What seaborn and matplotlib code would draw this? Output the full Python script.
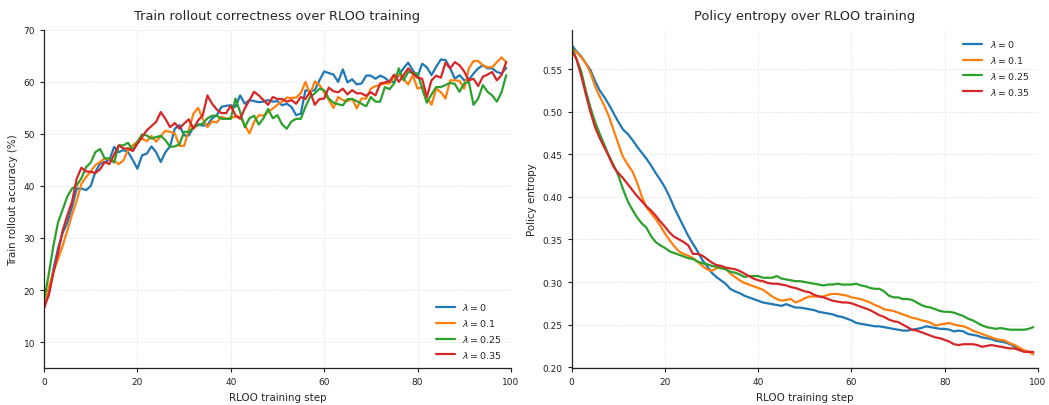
import numpy as np
import pandas as pd
import matplotlib
matplotlib.use("Agg")
import matplotlib.pyplot as plt
import seaborn as sns

# data
steps = list(range(100))
lambdas = ["0", "0.1", "0.25", "0.35"]
colors = ["#1f77b4", "#ff7f0e", "#2ca02c", "#d62728"]

acc_l0 = [17.5, 19, 24, 28, 31, 33, 36, 39.5, 39.5, 39.2,
          40, 42.7, 44.3, 44.6, 45, 47.5, 46.5, 46.9, 46.5, 45,
          43.3, 45.9, 46.2, 47.6, 46.5, 44.6, 46.5, 47.6, 51, 51.7,
          49.7, 49.7, 51.3, 51.8, 51.6, 51.7, 53, 53.6, 55.2, 55.4,
          55.5, 55.2, 57.4, 55.8, 56.5, 56.3, 56.1, 56.2, 56.5, 56.2,
          56.3, 55.5, 55.8, 55.2, 53.6, 53.9, 58.4, 58.2, 58.4, 60.3,
          62, 61.7, 61.4, 60, 62.4, 59.9, 60.5, 59.5, 59.7, 61.2,
          61.2, 60.6, 61.2, 60.8, 60, 60, 61.3, 62.6, 63.7, 62.2,
          61, 63.5, 62.8, 61.3, 62.9, 64.3, 64.2, 62.6, 60.6, 61.3,
          60.3, 60.4, 61.6, 62.6, 63.2, 62.6, 62.6, 61.9, 61.6, 62.7]
acc_l01 = [16.5, 20.5, 23.5, 26, 28.5, 31.5, 34.5, 37.2, 40.4, 41.7,
           42.8, 44, 44.6, 45.3, 45.1, 44.8, 44.2, 44.9, 46.9, 47.8,
           48.5, 49.1, 48.6, 49.6, 48.5, 49.6, 50.6, 50.4, 50.1, 47.7,
           47.7, 50.7, 53.9, 55, 52.9, 51.3, 52.4, 52.2, 53.3, 52.9,
           53.1, 53.3, 53.3, 51.7, 50.1, 52.3, 53.6, 53.5, 54.2, 54.9,
           55.6, 56.2, 57, 56.9, 57, 57.8, 60, 57.6, 60.1, 59.4,
           58, 56.5, 55, 57.1, 56.5, 56.3, 56.8, 54.9, 56.8, 56.8,
           58.7, 59.2, 59.4, 59.7, 59.7, 61, 61.3, 60.6, 59.5, 61.3,
           58.7, 59, 57.1, 55.6, 58.7, 58, 56.8, 60.3, 60.3, 60.2,
           58.7, 62.6, 64, 64, 63.2, 62.8, 62.8, 63.8, 64.7, 63.8]
acc_l025 = [18, 23, 28.5, 33, 35.5, 38, 39.5, 40.1, 41.5, 43.6,
            44.5, 46.5, 47.1, 45.3, 45.3, 44.5, 47.8, 47.8, 48.3, 46.9,
            48.5, 49.9, 49.7, 49.1, 49.4, 49.6, 48.8, 47.5, 47.6, 48,
            50.4, 50.4, 51.2, 51.7, 52, 53, 53.5, 53.5, 52.9, 52.9,
            52.9, 56.8, 54.2, 51.3, 53, 53.5, 51.8, 53, 54.8, 53,
            53.6, 51.8, 51, 52.4, 52.9, 52.9, 55.2, 57.1, 57.8, 58.7,
            58.4, 56.8, 56, 55.7, 55.5, 56.7, 56.7, 56.3, 55.8, 55.3,
            57.1, 56.2, 56.2, 59, 58.6, 59.7, 62.6, 60.3, 61.9, 61.7,
            61.6, 58.7, 56, 57.6, 59, 59, 59.4, 59.8, 59.6, 58.1,
            59.7, 60, 55.6, 56.8, 59.4, 58.1, 57.4, 56.2, 58, 61.3]
acc_l035 = [16.5, 19, 23.3, 27.2, 31.5, 34.4, 37, 41.4, 43.5, 42.8,
            42.7, 42.5, 43.2, 44.6, 44.2, 46, 47.8, 47.2, 47.2, 46.7,
            48.1, 49.4, 50.7, 51.5, 52.3, 54.2, 52.9, 51.3, 52.1, 51,
            52, 52.8, 51, 52.6, 53.6, 57.4, 55.8, 54.7, 54, 54,
            55.4, 53.6, 52.9, 54.9, 56.5, 58.1, 57.4, 56.5, 55.6, 57.1,
            56.7, 56.7, 56.2, 56.5, 55.8, 57.1, 56.7, 58.1, 55.6, 56.7,
            56.8, 58.9, 58.2, 58, 58.7, 57.6, 58.4, 57.8, 57.8, 57.3,
            58, 57.4, 59.7, 59.9, 60.1, 61.4, 60, 61.3, 62.6, 61.6,
            60.8, 60.6, 57.1, 60.3, 61.2, 60.8, 63.7, 62.6, 63.8, 63.2,
            62, 60.3, 60.6, 59.2, 61, 61.4, 61.9, 60.3, 61.3, 63.8]

ent_l0 = [.578, .571, .565, .557, .549, .536, .525, .517, .508, .498,
          .488, .479, .474, .467, .459, .452, .445, .437, .428, .420,
          .411, .400, .387, .376, .365, .354, .345, .336, .326, .319,
          .311, .306, .302, .298, .292, .289, .287, .284, .282, .280,
          .278, .276, .275, .274, .273, .272, .274, .272, .270, .270,
          .269, .268, .267, .265, .264, .263, .262, .260, .259, .257,
          .255, .252, .251, .250, .249, .248, .248, .247, .246, .245,
          .244, .243, .243, .244, .245, .246, .248, .247, .246, .245,
          .245, .244, .242, .243, .242, .239, .238, .237, .235, .234,
          .233, .231, .230, .229, .227, .224, .222, .219, .218, .217]
ent_l01 = [.574, .570, .564, .557, .546, .530, .518, .507, .494, .478,
           .462, .447, .438, .430, .417, .401, .388, .381, .374, .366,
           .357, .349, .342, .336, .333, .331, .328, .324, .319, .315,
           .313, .316, .318, .316, .310, .306, .302, .299, .297, .295,
           .293, .291, .287, .283, .280, .278, .279, .280, .276, .278,
           .281, .283, .283, .283, .283, .285, .286, .286, .285, .284,
           .282, .281, .280, .278, .276, .273, .271, .268, .267, .266,
           .264, .262, .260, .258, .257, .255, .254, .252, .249, .250,
           .251, .252, .250, .249, .248, .246, .243, .241, .239, .237,
           .235, .233, .232, .231, .228, .226, .223, .220, .218, .215]
ent_l025 = [.576, .562, .548, .525, .505, .488, .474, .461, .448, .437,
            .425, .409, .395, .385, .376, .369, .364, .354, .347, .343,
            .340, .336, .334, .332, .330, .328, .327, .324, .322, .321,
            .319, .318, .316, .315, .312, .311, .309, .306, .307, .307,
            .307, .305, .305, .305, .307, .304, .303, .302, .301, .301,
            .300, .299, .298, .297, .296, .297, .297, .298, .297, .297,
            .297, .298, .296, .295, .293, .292, .292, .289, .284, .282,
            .282, .280, .280, .279, .276, .273, .271, .270, .268, .266,
            .265, .265, .264, .262, .260, .257, .255, .252, .249, .247,
            .246, .245, .246, .245, .244, .244, .244, .244, .245, .247]
ent_l035 = [.572, .562, .543, .521, .500, .482, .469, .458, .447, .435,
            .428, .422, .415, .408, .401, .395, .389, .384, .378, .371,
            .365, .358, .353, .350, .347, .343, .333, .333, .331, .327,
            .323, .320, .319, .317, .316, .315, .313, .310, .307, .304,
            .302, .301, .299, .298, .298, .297, .296, .294, .293, .291,
            .289, .288, .285, .283, .282, .280, .278, .277, .276, .276,
            .275, .273, .271, .269, .267, .264, .261, .259, .256, .254,
            .253, .250, .247, .244, .243, .241, .239, .237, .235, .234,
            .232, .230, .227, .226, .227, .227, .227, .226, .224, .225,
            .226, .225, .224, .223, .222, .222, .220, .218, .218, .218]

acc_series = [acc_l0, acc_l01, acc_l025, acc_l035]
ent_series = [ent_l0, ent_l01, ent_l025, ent_l035]

rows = []
for lam, acc, ent in zip(lambdas, acc_series, ent_series):
    for s, a, e in zip(steps, acc, ent):
        rows.append({"step": s, "lam": r"$\lambda = %s$" % lam, "acc": a, "ent": e})
df = pd.DataFrame(rows)
hue_order = [r"$\lambda = %s$" % l for l in lambdas]

sns.set_theme(style="ticks")
plt.rcParams['font.family'] = ['DejaVu Sans']

fig = plt.figure(figsize=(10.49, 4.06), dpi=100)
ax1 = fig.add_axes([0.042, 0.091, 0.445, 0.833])
ax2 = fig.add_axes([0.545, 0.091, 0.4445, 0.833])

sns.lineplot(data=df, x="step", y="acc", hue="lam", hue_order=hue_order,
             palette=colors, linewidth=1.6, ax=ax1)
sns.lineplot(data=df, x="step", y="ent", hue="lam", hue_order=hue_order,
             palette=colors, linewidth=1.6, ax=ax2)

ax1.set_xlim(0, 100)
ax1.set_ylim(5, 70)
ax1.set_yticks([10, 20, 30, 40, 50, 60, 70])
ax2.set_xlim(0, 100)
ax2.set_ylim(0.199, 0.596)
ax2.set_yticks([0.20, 0.25, 0.30, 0.35, 0.40, 0.45, 0.50, 0.55])

ax1.set_title("Train rollout correctness over RLOO training", fontsize=9.4, pad=8)
ax2.set_title("Policy entropy over RLOO training", fontsize=9.4, pad=8)
ax1.set_xlabel("RLOO training step", fontsize=7.4)
ax2.set_xlabel("RLOO training step", fontsize=7.4)
ax1.set_ylabel("Train rollout accuracy (%)", fontsize=7.4)
ax2.set_ylabel("Policy entropy", fontsize=7.4)

for ax in (ax1, ax2):
    ax.grid(True, linestyle="--", linewidth=0.5, color="#dddddd", alpha=0.8)
    ax.tick_params(labelsize=6.5, length=3, width=0.8, colors="#222222")
    sns.despine(ax=ax)
    for sp in ("left", "bottom"):
        ax.spines[sp].set_linewidth(0.9)
        ax.spines[sp].set_color("#222222")

ax1.legend(loc="lower right", frameon=False, fontsize=6.8, handlelength=2.0)
ax2.legend(loc="upper right", frameon=False, fontsize=6.8, handlelength=2.0)

fig.savefig("out.png", dpi=100)
